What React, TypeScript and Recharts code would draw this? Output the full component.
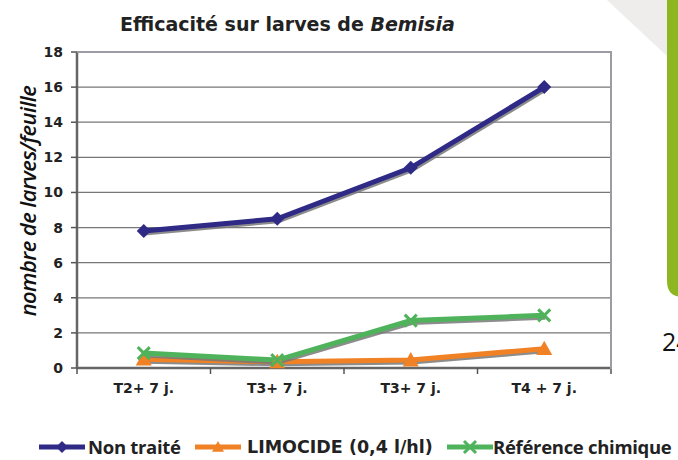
import { LineChart, Line, XAxis, YAxis, CartesianGrid } from "recharts";

const categories = ["T2+ 7 j.", "T3+ 7 j.", "T3+ 7 j.", "T4 + 7 j."];
const nonTraite = [7.8, 8.5, 11.4, 16.0];
const limocide = [0.5, 0.35, 0.45, 1.1];
const reference = [0.85, 0.45, 2.7, 3.0];
const yTicks = [0, 2, 4, 6, 8, 10, 12, 14, 16, 18];

const BLUE = "#2f2a85";
const ORANGE = "#f08124";
const GREEN = "#4fb35c";

const data = categories.map((c, i) => ({
  idx: i,
  nt: nonTraite[i],
  lim: limocide[i],
  ref: reference[i],
}));

const W = 678;
const H = 460;
const PLOT_LEFT = 77;
const PLOT_RIGHT = 611;
const PLOT_TOP = 52;
const PLOT_BOTTOM = 368;
const X_AXIS_H = 40;
const BAND = (PLOT_RIGHT - PLOT_LEFT) / categories.length;

const font = "'DejaVu Sans', Verdana, sans-serif";
const font2 = "'Open Sans', 'Noto Sans', sans-serif";

function diamond(cx: number, cy: number, r: number, color: string, key?: any) {
  return (
    <path
      key={key}
      d={`M${cx},${cy - r}L${cx + r},${cy}L${cx},${cy + r}L${cx - r},${cy}Z`}
      fill={color}
    />
  );
}

function triangle(cx: number, cy: number, r: number, color: string, key?: any) {
  return (
    <path
      key={key}
      d={`M${cx},${cy - r}L${cx + r},${cy + r * 0.8}L${cx - r},${cy + r * 0.8}Z`}
      fill={color}
    />
  );
}

function cross(cx: number, cy: number, r: number, color: string, key?: any) {
  return (
    <path
      key={key}
      d={`M${cx - r},${cy - r}L${cx + r},${cy + r}M${cx + r},${cy - r}L${cx - r},${cy + r}`}
      stroke={color}
      strokeWidth={3}
      fill="none"
    />
  );
}

function XTick(props: any) {
  const { x, payload, index } = props;
  const left = x - BAND / 2;
  return (
    <g>
      <line x1={left} y1={PLOT_BOTTOM} x2={left} y2={PLOT_BOTTOM + 6} stroke="#555" strokeWidth={1.5} />
      {index === categories.length - 1 && (
        <line x1={x + BAND / 2} y1={PLOT_BOTTOM} x2={x + BAND / 2} y2={PLOT_BOTTOM + 6} stroke="#555" strokeWidth={1.5} />
      )}
      <text
        x={x}
        y={PLOT_BOTTOM + 25}
        textAnchor="middle"
        fontFamily={font}
        fontWeight="bold"
        fontSize={14}
        fill="#222"
      >
        {categories[payload.value]}
      </text>
    </g>
  );
}

const legendItems = [
  { label: "Non traité", color: BLUE, marker: diamond, left: 38, textLeft: 88, ff: font2, fs: 18.5, ls: -0.3 },
  { label: "LIMOCIDE (0,4 l/hl)", color: ORANGE, marker: triangle, left: 194, textLeft: 247, ff: font, fs: 17.5, ls: 0 },
  { label: "Référence chimique", color: GREEN, marker: cross, left: 446, textLeft: 493, ff: font2, fs: 18.5, ls: -0.3 },
];

export default function App() {
  return (
    <div style={{ position: "absolute", left: 0, top: 0, width: W, height: H, overflow: "hidden", background: "#fff" }}>
      <style>{`.shadowed { filter: drop-shadow(1px 2px 0px rgba(120,120,120,0.85)); }`}</style>

      {/* page decorations at right */}
      <svg width={W} height={H} style={{ position: "absolute", left: 0, top: 0 }}>
        <path d="M607,0 L668,0 L668,57 Z" fill="#eeedeb" />
        <path d="M667,0 L690,0 L690,297 L683,297 Q667,297 667,281 Z" fill="#8cb720" />
        <text x={662} y={351} fontFamily="'Open Sans', sans-serif" fontSize={25} fill="#111">24</text>
      </svg>

      <div
        style={{
          position: "absolute",
          left: 120,
          top: 13,
          whiteSpace: "nowrap",
          fontFamily: font,
          fontWeight: "bold",
          fontSize: 19,
          color: "#222",
        }}
      >
        Efficacité sur larves de <i>Bemisia</i>
      </div>

      <div
        style={{
          position: "absolute",
          left: 27,
          top: 201,
          transform: "translate(-50%, -50%) rotate(-90deg)",
          whiteSpace: "nowrap",
          fontFamily: font2,
          fontStyle: "italic",
          fontWeight: 600,
          fontSize: 22,
          letterSpacing: -0.6,
          color: "#111",
        }}
      >
        nombre de larves/feuille
      </div>

      <div style={{ position: "absolute", left: 0, top: 0 }}>
        <LineChart
          width={W}
          height={H}
          data={data}
          margin={{ top: PLOT_TOP, right: W - PLOT_RIGHT, left: 0, bottom: H - PLOT_BOTTOM - X_AXIS_H }}
        >
          <CartesianGrid vertical={false} stroke="#777" strokeWidth={1.2} />
          <XAxis
            dataKey="idx"
            type="category"
            scale="band"
            height={X_AXIS_H}
            axisLine={{ stroke: "#666", strokeWidth: 2.5 }}
            tickLine={false}
            tick={<XTick />}
            interval={0}
          />
          <YAxis
            width={PLOT_LEFT}
            domain={[0, 18]}
            ticks={yTicks}
            interval={0}
            axisLine={{ stroke: "#666", strokeWidth: 2.5 }}
            tickLine={{ stroke: "#555", strokeWidth: 1.5 }}
            tickSize={6}
            tickMargin={8}
            tick={{ fontFamily: font, fontWeight: "bold", fontSize: 14, fill: "#222" }}
          />
          <Line
            className="shadowed"
            dataKey="nt"
            stroke={BLUE}
            strokeWidth={5}
            isAnimationActive={false}
            dot={(p: any) => diamond(p.cx, p.cy, 7, BLUE, p.key ?? p.index)}
          />
          <Line
            className="shadowed"
            dataKey="lim"
            stroke={ORANGE}
            strokeWidth={5}
            isAnimationActive={false}
            dot={(p: any) => triangle(p.cx, p.cy, 8, ORANGE, p.key ?? p.index)}
          />
          <Line
            className="shadowed"
            dataKey="ref"
            stroke={GREEN}
            strokeWidth={5}
            isAnimationActive={false}
            dot={(p: any) => cross(p.cx, p.cy, 6, GREEN, p.key ?? p.index)}
          />
        </LineChart>
      </div>

      {/* plot frame top/right */}
      <div
        style={{
          position: "absolute",
          left: PLOT_LEFT,
          top: PLOT_TOP - 1,
          width: PLOT_RIGHT - PLOT_LEFT - 1,
          height: PLOT_BOTTOM - PLOT_TOP,
          borderTop: "2px solid #9c9ca4",
          borderRight: "2px solid #9c9ca4",
          pointerEvents: "none",
        }}
      />

      {legendItems.map((it, i) => (
        <div key={i}>
          <svg width={48} height={20} style={{ position: "absolute", left: it.left, top: 437 }}>
            <line x1={1} y1={10} x2={47} y2={10} stroke={it.color} strokeWidth={5} />
            {it.marker(24, 10, 6, it.color)}
          </svg>
          <span
            style={{
              position: "absolute",
              left: it.textLeft,
              top: 435,
              whiteSpace: "nowrap",
              fontFamily: it.ff,
              fontWeight: "bold",
              fontSize: it.fs,
              letterSpacing: it.ls,
              lineHeight: "24px",
              color: "#222",
            }}
          >
            {it.label}
          </span>
        </div>
      ))}
    </div>
  );
}
